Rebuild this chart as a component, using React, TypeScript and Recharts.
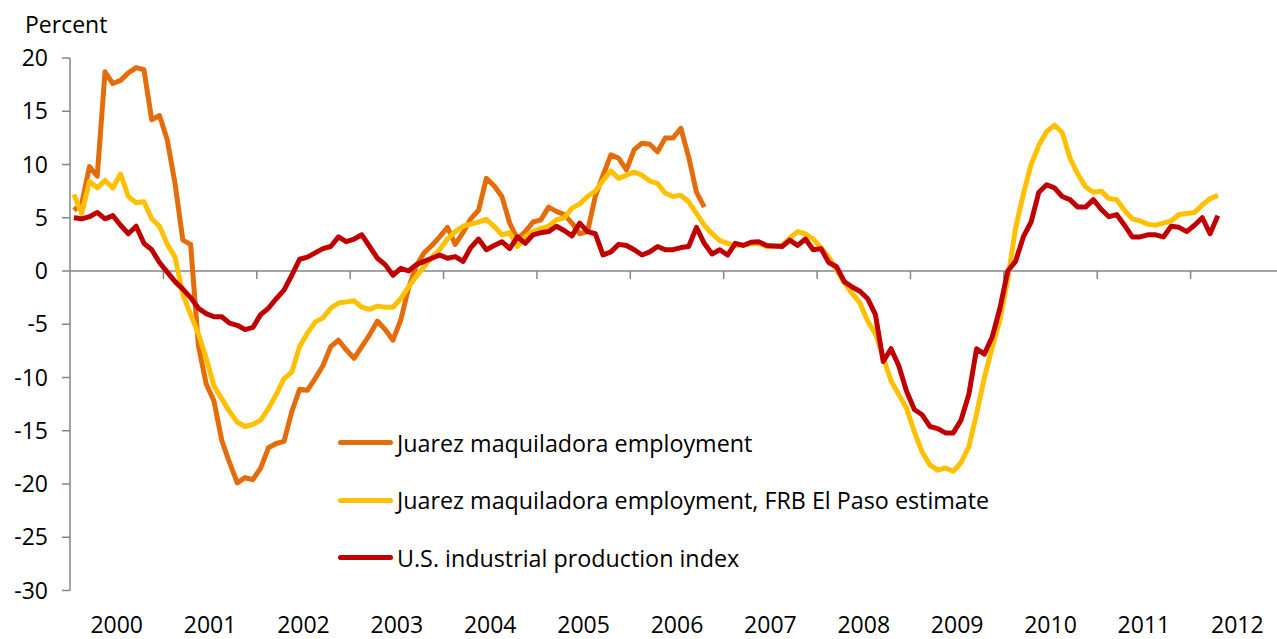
import { LineChart, Line, XAxis, YAxis, ReferenceLine, Legend } from 'recharts';

// monthly, Jan 2000 onward (year-over-year % change)
const yearLabels = ['2000', '2001', '2002', '2003', '2004', '2005', '2006', '2007', '2008', '2009', '2010', '2011', '2012'];
const yTicks = [20, 15, 10, 5, 0, -5, -10, -15, -20, -25, -30];

const juarezEmployment = [
  5.7, 6.3, 9.8, 8.9, 18.7, 17.6, 17.9, 18.6, 19.1, 18.9, 14.2, 14.6,
  12.3, 8.2, 2.9, 2.5, -7.0, -10.6, -12.2, -15.9, -18.0, -19.9, -19.4, -19.6,
  -18.5, -16.6, -16.2, -16.0, -13.2, -11.1, -11.2, -10.1, -8.9, -7.1, -6.5, -7.4,
  -8.2, -7.1, -6.0, -4.7, -5.5, -6.5, -4.6, -1.6, 0.5, 1.7, 2.4, 3.2,
  4.1, 2.5, 3.6, 4.9, 5.7, 8.7, 8.0, 7.0, 4.5, 3.0, 3.7, 4.6,
  4.8, 6.0, 5.6, 5.3, 4.5, 3.5, 3.7, 7.0, 9.0, 10.9, 10.6, 9.5,
  11.4, 12.0, 11.9, 11.2, 12.5, 12.5, 13.4, 10.7, 7.4, 6.0,
];

const juarezEstimate = [
  7.2, 5.4, 8.4, 7.8, 8.5, 7.8, 9.1, 7.0, 6.4, 6.5, 4.9, 4.2,
  2.5, 1.3, -2.2, -4.1, -5.9, -8.2, -10.8, -12.0, -13.2, -14.2, -14.6, -14.4,
  -14.0, -12.9, -11.6, -10.1, -9.5, -7.1, -5.85, -4.8, -4.4, -3.5, -3.0, -2.9,
  -2.8, -3.4, -3.6, -3.3, -3.4, -3.4, -2.6, -1.5, -0.5, 0.4, 1.3, 2.0,
  3.0, 3.7, 4.2, 4.4, 4.6, 4.85, 4.2, 3.4, 3.6, 2.3, 3.2, 3.7,
  4.0, 4.2, 4.8, 5.0, 5.9, 6.3, 7.0, 7.5, 8.5, 9.4, 8.7, 9.0,
  9.3, 9.0, 8.45, 8.2, 7.3, 7.0, 7.1, 6.5, 5.4, 4.3, 3.5, 2.85,
  2.6, 2.4, 2.45, 2.55, 2.6, 2.3, 2.3, 2.4, 3.1, 3.7, 3.5, 3.0,
  2.2, 1.3, 0.1, -1.1, -2.1, -3.0, -4.7, -5.9, -8.1, -10.3, -11.6, -12.9,
  -15.1, -17.0, -18.2, -18.7, -18.5, -18.8, -18.0, -16.5, -13.4, -10.0, -7.2, -4.6,
  -0.8, 4.0, 7.2, 10.0, 11.8, 13.1, 13.7, 13.0, 10.6, 9.1, 7.9, 7.4,
  7.5, 6.8, 6.7, 5.7, 4.9, 4.7, 4.4, 4.3, 4.5, 4.7, 5.3, 5.4,
  5.5, 6.2, 6.8, 7.1,
];

const usIndustrialProduction = [
  5.0, 4.9, 5.1, 5.5, 4.9, 5.2, 4.3, 3.5, 4.2, 2.6, 2.0, 0.8,
  -0.1, -1.0, -1.7, -2.5, -3.5, -4.0, -4.3, -4.3, -4.9, -5.1, -5.5, -5.3,
  -4.1, -3.5, -2.6, -1.8, -0.4, 1.1, 1.3, 1.7, 2.1, 2.3, 3.2, 2.75,
  3.0, 3.4, 2.3, 1.2, 0.6, -0.4, 0.25, 0.0, 0.6, 0.9, 1.2, 1.5,
  1.2, 1.35, 0.9, 2.2, 3.0, 2.0, 2.4, 2.75, 2.1, 3.2, 2.6, 3.4,
  3.6, 3.7, 4.2, 3.8, 3.3, 4.5, 3.7, 3.5, 1.5, 1.8, 2.5, 2.4,
  2.0, 1.5, 1.8, 2.3, 2.0, 2.0, 2.2, 2.3, 4.1, 2.6, 1.6, 2.0,
  1.5, 2.6, 2.4, 2.7, 2.75, 2.4, 2.35, 2.3, 2.9, 2.4, 3.0, 2.0,
  2.1, 0.8, 0.4, -1.0, -1.5, -1.9, -2.6, -4.1, -8.5, -7.3, -8.9, -11.3,
  -13.0, -13.5, -14.6, -14.8, -15.2, -15.2, -14.0, -11.6, -7.3, -7.8, -6.2, -3.5,
  0.0, 0.9, 3.2, 4.6, 7.4, 8.1, 7.8, 7.0, 6.7, 6.0, 6.0, 6.7,
  5.8, 5.1, 5.3, 4.3, 3.2, 3.2, 3.4, 3.4, 3.2, 4.2, 4.1, 3.7,
  4.3, 5.0, 3.5, 5.2,
];

const series = [
  { key: 'juarez', name: 'Juarez maquiladora employment', color: '#E46C0A' },
  { key: 'estimate', name: 'Juarez maquiladora employment, FRB El Paso estimate', color: '#FFC000' },
  { key: 'ip', name: 'U.S. industrial production index', color: '#C00000' },
];

const data = usIndustrialProduction.map((v, i) => ({
  t: i + 0.5,
  juarez: i < juarezEmployment.length ? juarezEmployment[i] : null,
  estimate: juarezEstimate[i],
  ip: v,
}));

const yearMids = yearLabels.map((_, k) => k * 12 + 6);
const yearBounds = yearLabels.slice(1).map((_, k) => (k + 1) * 12);

const axisGray = '#868686';
const font = '"Open Sans", sans-serif';

function YearTick({ x, y, payload }: any) {
  const k = Math.round((payload.value - 6) / 12);
  return (
    <text x={x} y={y + 42} textAnchor="middle" fontSize={23} fill="#000" fontFamily={font}>
      {yearLabels[k]}
    </text>
  );
}

function LegendBox() {
  return (
    <div style={{ fontFamily: font, fontSize: 23.3, color: '#000' }}>
      {series.map((s) => (
        <div key={s.key} style={{ display: 'flex', alignItems: 'center', height: 57.5 }}>
          <span style={{ display: 'inline-block', width: 55, height: 5, background: s.color, borderRadius: 3, marginRight: 4 }} />
          <span style={{ whiteSpace: 'nowrap' }}>{s.name}</span>
        </div>
      ))}
    </div>
  );
}

export default function App() {
  return (
    <div style={{ position: 'absolute', left: 0, top: 0, width: 1277, height: 639, overflow: 'hidden', background: '#fff', fontFamily: font }}>
      <div style={{ position: 'absolute', left: 25, top: 9, fontSize: 23, lineHeight: '30px', color: '#000' }}>Percent</div>
      <LineChart width={1284} height={639} data={data} margin={{ top: 58, right: 0, bottom: 0, left: 0 }}>
        <XAxis
          dataKey="t"
          type="number"
          domain={[0, 156]}
          ticks={yearMids}
          interval={0}
          axisLine={false}
          tickLine={false}
          tickSize={0}
          tickMargin={0}
          height={48.5}
          tick={<YearTick />}
        />
        <YAxis
          type="number"
          domain={[-30, 20]}
          ticks={yTicks}
          interval={0}
          width={70}
          axisLine={{ stroke: axisGray, strokeWidth: 1.5 }}
          tickLine={{ stroke: axisGray, strokeWidth: 1.5 }}
          tickSize={8}
          tickMargin={14}
          tick={{ fill: '#000', fontSize: 23, fontFamily: font }}
        />
        <ReferenceLine y={0} stroke={axisGray} strokeWidth={1.5} />
        {yearBounds.map((b) => (
          <ReferenceLine
            key={b}
            segment={[{ x: b, y: 0 }, { x: b, y: -0.75 }]}
            stroke={axisGray}
            strokeWidth={1.5}
          />
        ))}
        {series.map((s) => (
          <Line
            key={s.key}
            dataKey={s.key}
            name={s.name}
            type="linear"
            stroke={s.color}
            strokeWidth={5}
            strokeLinejoin="round"
            dot={false}
            activeDot={false}
            isAnimationActive={false}
          />
        ))}
        <Legend
          layout="vertical"
          align="center"
          verticalAlign="middle"
          content={<LegendBox />}
          wrapperStyle={{ left: 338, top: 414, width: 700 }}
        />
      </LineChart>
    </div>
  );
}
